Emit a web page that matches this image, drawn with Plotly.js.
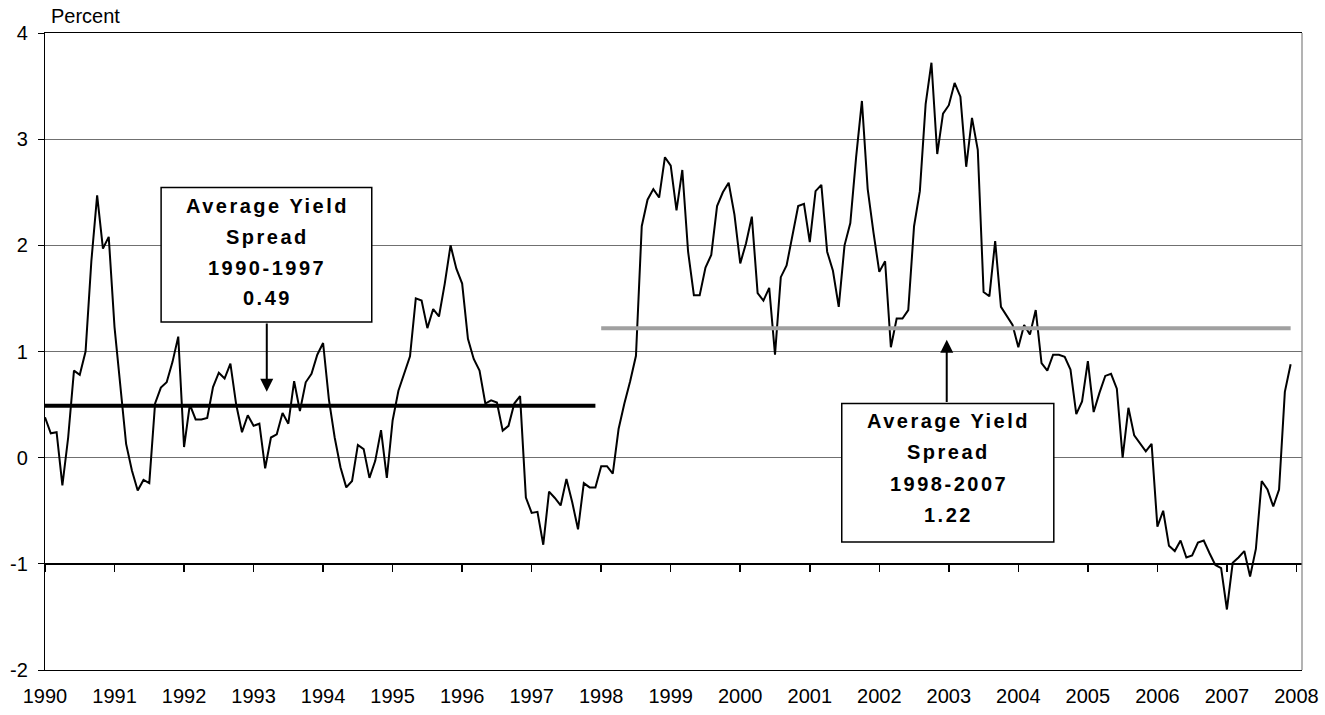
<!DOCTYPE html>
<html>
<head>
<meta charset="utf-8">
<script src="https://cdn.plot.ly/plotly-3.0.1.min.js"></script>
<style>html,body{margin:0;padding:0;background:#fff;}#chart{width:1325px;height:715px;}</style>
</head>
<body>
<div id="chart"></div>
<script>
// Monthly yield spread (percent), Jan 1990 - Dec 2007
const startYear = 1990;
const spread1990 = [0.38, 0.23, 0.24, -0.26, 0.19, 0.82, 0.78, 1.00, 1.85, 2.47, 1.97, 2.08];
const spread1991 = [1.23, 0.68, 0.13, -0.12, -0.31, -0.21, -0.24, 0.51, 0.66, 0.71, 0.90, 1.14];
const spread1992 = [0.10, 0.50, 0.36, 0.36, 0.375, 0.665, 0.80, 0.745, 0.886, 0.50, 0.24, 0.40];
const spread1993 = [0.30, 0.32, -0.10, 0.19, 0.22, 0.42, 0.32, 0.72, 0.44, 0.71, 0.79, 0.97];
const spread1994 = [1.08, 0.55, 0.19, -0.09, -0.28, -0.22, 0.12, 0.08, -0.19, -0.03, 0.26, -0.19];
const spread1995 = [0.35, 0.63, 0.79, 0.955, 1.50, 1.48, 1.22, 1.40, 1.33, 1.64, 2.00, 1.78];
const spread1996 = [1.64, 1.12, 0.93, 0.82, 0.51, 0.54, 0.52, 0.255, 0.30, 0.51, 0.58, -0.375];
const spread1997 = [-0.52, -0.51, -0.82, -0.32, -0.38, -0.45, -0.20, -0.42, -0.675, -0.24, -0.28, -0.28];
const spread1998 = [-0.08, -0.08, -0.15, 0.27, 0.51, 0.72, 0.96, 2.18, 2.43, 2.53, 2.45, 2.83];
const spread1999 = [2.75, 2.33, 2.71, 1.94, 1.53, 1.53, 1.79, 1.91, 2.37, 2.50, 2.59, 2.29];
const spread2000 = [1.83, 2.02, 2.27, 1.55, 1.48, 1.60, 0.97, 1.70, 1.81, 2.10, 2.37, 2.39];
const spread2001 = [2.03, 2.51, 2.57, 1.94, 1.76, 1.42, 2.00, 2.21, 2.83, 3.36, 2.53, 2.12];
const spread2002 = [1.75, 1.85, 1.04, 1.31, 1.31, 1.39, 2.18, 2.51, 3.33, 3.72, 2.86, 3.24];
const spread2003 = [3.32, 3.53, 3.40, 2.74, 3.20, 2.90, 1.56, 1.52, 2.04, 1.42, 1.33, 1.25];
const spread2004 = [1.04, 1.25, 1.16, 1.39, 0.89, 0.82, 0.97, 0.97, 0.95, 0.83, 0.41, 0.53];
const spread2005 = [0.91, 0.43, 0.61, 0.77, 0.79, 0.65, 0.00, 0.47, 0.21, 0.13, 0.06, 0.13];
const spread2006 = [-0.65, -0.50, -0.83, -0.88, -0.78, -0.94, -0.92, -0.80, -0.78, -0.90, -1.01, -1.04];
const spread2007 = [-1.43, -0.99, -0.94, -0.88, -1.12, -0.86, -0.22, -0.30, -0.46, -0.30, 0.62, 0.88];

const yearTicks = [1990,1991,1992,1993,1994,1995,1996,1997,1998,1999,2000,2001,2002,2003,2004,2005,2006,2007,2008];
const yTicks = [-2, -1, 0, 1, 2, 3, 4];

// Period averages
const avgPeriod1 = {from: 1990, to: 1997, value: 0.49};
const avgPeriod2 = {from: 1998, to: 2007, value: 1.22};

const box1Lines = ["Average Yield", "Spread", "1990-1997", "0.49"];
const box2Lines = ["Average Yield", "Spread", "1998-2007", "1.22"];

const allYears = [spread1990, spread1991, spread1992, spread1993, spread1994, spread1995,
  spread1996, spread1997, spread1998, spread1999, spread2000, spread2001, spread2002,
  spread2003, spread2004, spread2005, spread2006, spread2007];

const xs = [], ys = [];
allYears.forEach((arr, yi) => arr.forEach((v, m) => { xs.push(startYear + yi + m / 12); ys.push(v); }));

const FONT = "Liberation Sans, Arial, sans-serif";

const traces = [
  {x: [avgPeriod1.from, avgPeriod1.to + 11/12], y: [avgPeriod1.value, avgPeriod1.value],
   xaxis: 'x2', yaxis: 'y', mode: 'lines', line: {color: '#000000', width: 4}, hoverinfo: 'skip'},
  {x: [avgPeriod2.from, avgPeriod2.to + 11/12], y: [avgPeriod2.value, avgPeriod2.value],
   xaxis: 'x2', yaxis: 'y', mode: 'lines', line: {color: '#a0a0a0', width: 4}, hoverinfo: 'skip'},
  {x: xs, y: ys, mode: 'lines', line: {color: '#000000', width: 2}, hoverinfo: 'skip'}
];

function boxText(lines, xc, yTop, step) {
  return lines.map((t, k) => ({
    x: xc, y: yTop - k * step, xref: 'x', yref: 'y', showarrow: false,
    text: '<span style="letter-spacing:2.5px"><b>' + t + '</b></span>',
    font: {family: FONT, size: 20, color: '#000'}, xanchor: 'center', yanchor: 'middle'
  }));
}

const annotations = [].concat(
  boxText(box1Lines, 1993.2, 2.37, 0.29),
  boxText(box2Lines, 2003.0, 0.345, 0.295),
  [
    {x: 1993.19, y: 0.62, ax: 1993.19, ay: 1.277, xref: 'x', yref: 'y', axref: 'x', ayref: 'y',
     text: '', showarrow: true, arrowhead: 2, arrowsize: 1.3, arrowwidth: 2, arrowcolor: '#000', standoff: 0, startstandoff: 0},
    {x: 2002.97, y: 1.11, ax: 2002.97, ay: 0.511, xref: 'x', yref: 'y', axref: 'x', ayref: 'y',
     text: '', showarrow: true, arrowhead: 2, arrowsize: 1.3, arrowwidth: 2, arrowcolor: '#000', standoff: 0, startstandoff: 0},
    {x: 0, y: 1, xref: 'paper', yref: 'paper', xanchor: 'left', yanchor: 'bottom', xshift: 4, yshift: 4,
     text: 'Percent', showarrow: false, font: {family: FONT, size: 20, color: '#000'}}
  ]
);

const shapes = [
  {type: 'rect', xref: 'x', yref: 'y', x0: 1991.67, x1: 1994.70, y0: 1.277, y1: 2.545,
   line: {color: '#000', width: 1.5}, fillcolor: '#fff', layer: 'above'},
  {type: 'rect', xref: 'x', yref: 'y', x0: 2001.46, x1: 2004.51, y0: -0.795, y1: 0.511,
   line: {color: '#000', width: 1.5}, fillcolor: '#fff', layer: 'above'},
  {type: 'line', xref: 'paper', yref: 'paper', x0: 1, x1: 1, y0: 0, y1: 1,
   line: {color: '#808080', width: 1.2}, layer: 'above'}
];

const layout = {
  width: 1325, height: 715,
  margin: {l: 45, r: 23, t: 33, b: 45},
  paper_bgcolor: '#fff', plot_bgcolor: '#fff',
  showlegend: false,
  font: {family: FONT, size: 20, color: '#000'},
  xaxis: {
    range: [1990, 2008.08], tickvals: yearTicks, ticktext: yearTicks.map(String),
    ticks: '', showgrid: false, zeroline: false, showline: true, linecolor: '#000', linewidth: 1.2,
    mirror: true, ticklabelstandoff: 8, tickfont: {family: FONT, size: 20, color: '#000'}, fixedrange: true
  },
  xaxis2: {
    matches: 'x', overlaying: 'x', anchor: 'free', position: 1/6, side: 'bottom',
    tickvals: yearTicks, showticklabels: false, ticks: 'outside', ticklen: 7, tickwidth: 1.5, tickcolor: '#000',
    showgrid: false, zeroline: false, showline: true, linecolor: '#000', linewidth: 2
  },
  yaxis: {
    range: [-2, 4], tickvals: yTicks, ticktext: yTicks.map(String),
    ticks: 'outside', ticklen: 6, tickcolor: '#000', tickwidth: 1,
    showgrid: true, gridcolor: '#707070', gridwidth: 1, zeroline: false,
    showline: true, linecolor: '#000', linewidth: 1.2, mirror: false,
    ticklabelstandoff: 6, tickfont: {family: FONT, size: 20, color: '#000'}, fixedrange: true
  },
  annotations: annotations,
  shapes: shapes
};

Plotly.newPlot('chart', traces, layout, {staticPlot: true, displayModeBar: false});
</script>
</body>
</html>
